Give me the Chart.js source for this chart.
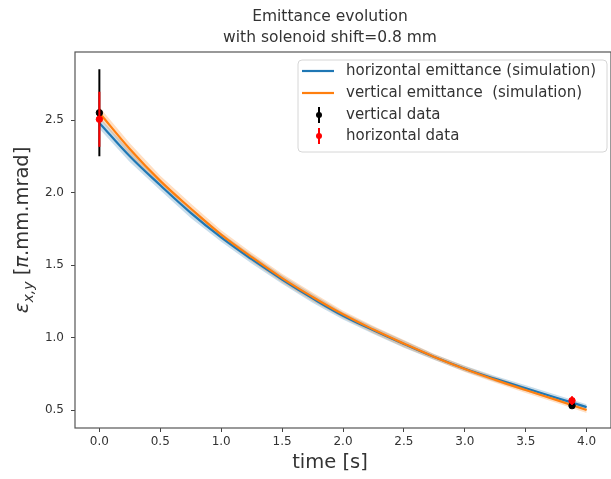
<!DOCTYPE html>
<html>
<head>
<meta charset="utf-8">
<style>
  body { margin: 0; background: #fff; }
  #wrap { width: 611px; height: 479px; overflow: hidden; }
</style>
</head>
<body>
<div id="wrap">
  <canvas id="chart" width="616" height="479"></canvas>
</div>

<script src="https://cdn.jsdelivr.net/npm/chart.js"></script>

<script>
  const times = [0, 0.25, 0.5, 0.75, 1.0, 1.25, 1.5, 1.75, 2.0, 2.25, 2.5, 2.75, 3.0, 3.25, 3.5, 3.75, 4.0];
  const horizSim = [2.48, 2.25, 2.05, 1.86, 1.69, 1.54, 1.40, 1.27, 1.15, 1.05, 0.955, 0.865, 0.785, 0.715, 0.65, 0.585, 0.52];
  const vertSim = [2.55, 2.30, 2.08, 1.89, 1.71, 1.555, 1.41, 1.28, 1.16, 1.055, 0.958, 0.866, 0.783, 0.708, 0.638, 0.57, 0.50];
  const horizSpread = [0.04, 0.04, 0.035, 0.035, 0.03, 0.03, 0.03, 0.03, 0.025, 0.025, 0.025, 0.02, 0.02, 0.02, 0.02, 0.02, 0.02];
  const vertSpread = [0.04, 0.04, 0.035, 0.035, 0.03, 0.03, 0.03, 0.03, 0.025, 0.025, 0.025, 0.02, 0.02, 0.02, 0.02, 0.02, 0.02];

  const dataTimes = [0, 3.88];
  const vertData = [2.55, 0.53];
  const vertErr = [0.30, 0.012];
  const horizData = [2.505, 0.565];
  const horizErr = [0.19, 0.03];

  const xTicks = [0, 0.5, 1, 1.5, 2, 2.5, 3, 3.5, 4];
  const yTicks = [0.5, 1, 1.5, 2, 2.5];

  const titleLines = ['Emittance evolution', 'with solenoid shift=0.8 mm'];
  const labels = ['horizontal emittance (simulation)', 'vertical emittance  (simulation)', 'vertical data', 'horizontal data'];

  const BLUE = '#1f77b4';
  const ORANGE = '#ff7f0e';
  const TXT = '#333';
  const FONT = '"DejaVu Sans", sans-serif';

  const pts = (xs, ys) => xs.map((x, i) => ({ x, y: ys[i] }));
  const band = (ys, sp, s) => ys.map((v, i) => v + s * sp[i]);

  const errors = { 6: vertErr, 7: horizErr };

  const errorBars = {
    id: 'errorBars',
    beforeDatasetDraw(chart, args) {
      const err = errors[args.index];
      if (!err) return;
      const { ctx, scales: { x, y } } = chart;
      const ds = chart.data.datasets[args.index];
      ctx.save();
      ctx.strokeStyle = ds.backgroundColor;
      ctx.lineWidth = 2;
      ds.data.forEach((p, i) => {
        const px = x.getPixelForValue(p.x);
        ctx.beginPath();
        ctx.moveTo(px, y.getPixelForValue(p.y - err[i]));
        ctx.lineTo(px, y.getPixelForValue(p.y + err[i]));
        ctx.stroke();
      });
      ctx.restore();
    },
  };

  const decorations = {
    id: 'decorations',
    beforeDatasetsDraw(chart) {
      const { ctx, chartArea: a } = chart;
      ctx.save();
      ctx.strokeStyle = '#555';
      ctx.lineWidth = 1.2;
      ctx.strokeRect(a.left, a.top, a.right - a.left, a.bottom - a.top);
      ctx.restore();
    },
    afterDraw(chart) {
      const { ctx } = chart;
      ctx.save();
      ctx.fillStyle = TXT;
      ctx.textAlign = 'center';
      ctx.textBaseline = 'middle';
      ctx.font = '15.5px ' + FONT;
      ctx.fillText(titleLines[0], 330, 17);
      ctx.fillText(titleLines[1], 330, 38);

      ctx.font = '19.5px ' + FONT;
      ctx.fillText('time [s]', 330, 463);

      // y axis label
      const parts = [
        { t: 'ε', f: 'oblique 20px ' + FONT, dy: 0 },
        { t: 'x,y', f: 'oblique 14px ' + FONT, dy: 5 },
        { t: ' [', f: '19.5px ' + FONT, dy: 0 },
        { t: 'π', f: 'oblique 19.5px ' + FONT, dy: 0 },
        { t: '.mm.mrad]', f: '19.5px ' + FONT, dy: 0 },
      ];
      ctx.translate(21, 230);
      ctx.rotate(-Math.PI / 2);
      ctx.textAlign = 'left';
      ctx.textBaseline = 'alphabetic';
      let w = 0;
      parts.forEach(p => { ctx.font = p.f; p.w = ctx.measureText(p.t).width; w += p.w; });
      let cx = -w / 2;
      parts.forEach(p => {
        ctx.font = p.f;
        ctx.fillText(p.t, cx, 7 + p.dy);
        cx += p.w;
      });
      ctx.restore();

      // legend
      ctx.save();
      const bx = 298, by = 60, bw = 309, bh = 92;
      ctx.beginPath();
      ctx.roundRect(bx, by, bw, bh, 4);
      ctx.fillStyle = 'rgba(255,255,255,0.85)';
      ctx.fill();
      ctx.strokeStyle = '#d6d6d6';
      ctx.lineWidth = 1;
      ctx.stroke();
      const rows = [71, 93, 115, 136];
      ctx.font = '15px ' + FONT;
      ctx.textBaseline = 'middle';
      rows.forEach((ry, i) => {
        ctx.fillStyle = TXT;
        ctx.fillText(labels[i], 346, ry);
        if (i < 2) {
          ctx.strokeStyle = i === 0 ? BLUE : ORANGE;
          ctx.lineWidth = 2.2;
          ctx.beginPath();
          ctx.moveTo(302, ry);
          ctx.lineTo(334, ry);
          ctx.stroke();
        } else {
          const c = i === 2 ? '#000' : 'red';
          ctx.strokeStyle = c;
          ctx.fillStyle = c;
          ctx.lineWidth = 2;
          ctx.beginPath();
          ctx.moveTo(319, ry - 8);
          ctx.lineTo(319, ry + 8);
          ctx.stroke();
          ctx.beginPath();
          ctx.arc(319, ry, 3, 0, Math.PI * 2);
          ctx.fill();
        }
      });
      ctx.restore();
    },
  };

  const ctx = document.getElementById('chart');

  const chart = new Chart(ctx, {
    type: 'line',
    data: {
      datasets: [
        { data: pts(times, band(horizSim, horizSpread, 1)), fill: '+1', backgroundColor: 'rgba(31,119,180,0.25)', borderWidth: 0, pointRadius: 0, order: 8 },
        { data: pts(times, band(horizSim, horizSpread, -1)), fill: false, borderWidth: 0, pointRadius: 0, order: 8 },
        { data: pts(times, band(vertSim, vertSpread, 1)), fill: '+1', backgroundColor: 'rgba(255,127,14,0.25)', borderWidth: 0, pointRadius: 0, order: 7 },
        { data: pts(times, band(vertSim, vertSpread, -1)), fill: false, borderWidth: 0, pointRadius: 0, order: 7 },
        { label: labels[0], data: pts(times, horizSim), borderColor: BLUE, borderWidth: 2.2, pointRadius: 0, tension: 0.4, order: 5 },
        { label: labels[1], data: pts(times, vertSim), borderColor: ORANGE, borderWidth: 2.2, pointRadius: 0, tension: 0.4, order: 4 },
        { type: 'scatter', label: labels[2], data: pts(dataTimes, vertData), backgroundColor: '#000', borderColor: '#000', pointRadius: 3.2, order: 2 },
        { type: 'scatter', label: labels[3], data: pts(dataTimes, horizData), backgroundColor: 'red', borderColor: 'red', pointRadius: 3.2, order: 1 },
      ],
    },
    options: {
      responsive: false,
      animation: false,
      layout: { padding: { top: 52, right: 2.5, left: 0, bottom: 0 } },
      plugins: { legend: { display: false }, tooltip: { enabled: false } },
      scales: {
        x: {
          type: 'linear',
          min: -0.2,
          max: 4.2,
          afterBuildTicks: (s) => { s.ticks = xTicks.map(v => ({ value: v })); },
          afterFit: (s) => { s.height = 51; },
          border: { display: false },
          grid: { drawOnChartArea: false, drawTicks: true, tickLength: 4, color: '#444' },
          ticks: { color: TXT, font: { size: 12, family: FONT }, padding: 3, callback: v => v.toFixed(1), maxRotation: 0 },
        },
        y: {
          min: 0.376,
          max: 2.969,
          afterBuildTicks: (s) => { s.ticks = yTicks.map(v => ({ value: v })); },
          afterFit: (s) => { s.width = 75; },
          border: { display: false },
          grid: { drawOnChartArea: false, drawTicks: true, tickLength: 4, color: '#444' },
          ticks: { color: TXT, font: { size: 12, family: FONT }, padding: 7, callback: v => v.toFixed(1) },
        },
      },
    },
    plugins: [errorBars, decorations],
  });
</script>
</body>
</html>
